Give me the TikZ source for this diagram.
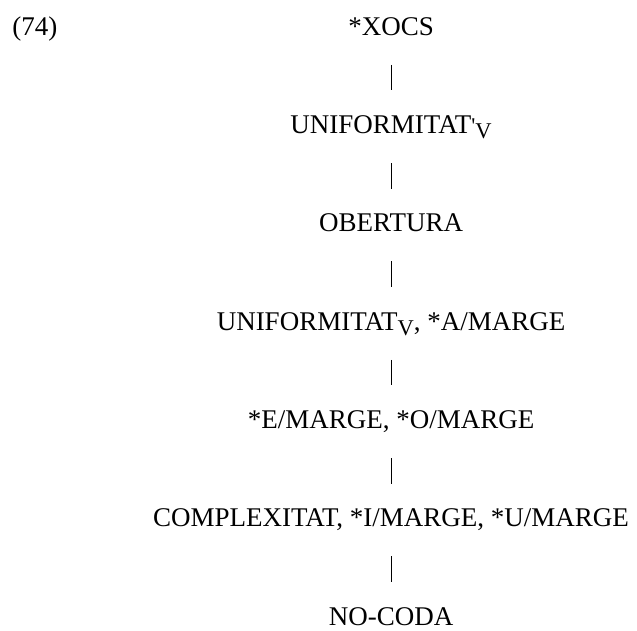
\documentclass[tikz,border=0pt]{standalone}
\usepackage{fontspec}
\setmainfont{Liberation Serif}
\usepackage{tikz}
\usetikzlibrary{positioning}

\tikzset{
  rank/.style={inner sep=0pt, text height=8pt, text depth=3pt, font=\fontsize{12}{14}\selectfont},
  bar/.style={line width=0.5pt, shorten <=10pt, shorten >=11pt}
}
\newcommand{\vsub}[1]{{\fontsize{10}{10}\selectfont#1\raisebox{-2.2pt}{V}}}

\begin{document}
\begin{tikzpicture}
\useasboundingbox (0,0) rectangle (283.1pt,-280pt);

\node (num) [rank, anchor=base west] at (5.3pt,-15.6pt) {(74)};
\node (xocs) [rank, anchor=base] at (173.8pt,-15.6pt) {*XOCS};
\node (unifs) [rank, below=32.3pt of xocs] {UNIFORMITAT\vsub{\textquotesingle}};
\node (obert) [rank, below=32.3pt of unifs] {OBERTURA};
\node (unifv) [rank, below=32.3pt of obert] {UNIFORMITAT\vsub{}, *A/MARGE};
\node (eomarge) [rank, below=32.3pt of unifv] {*E/MARGE, *O/MARGE};
\node (compl) [rank, below=32.3pt of eomarge] {COMPLEXITAT, *I/MARGE, *U/MARGE};
\node (nocoda) [rank, below=32.3pt of compl] {NO-CODA};

\draw[bar] (xocs) -- (unifs);
\draw[bar] (unifs) -- (obert);
\draw[bar] (obert) -- (unifv);
\draw[bar] (unifv) -- (eomarge);
\draw[bar] (eomarge) -- (compl);
\draw[bar] (compl) -- (nocoda);

\end{tikzpicture}
\end{document}
